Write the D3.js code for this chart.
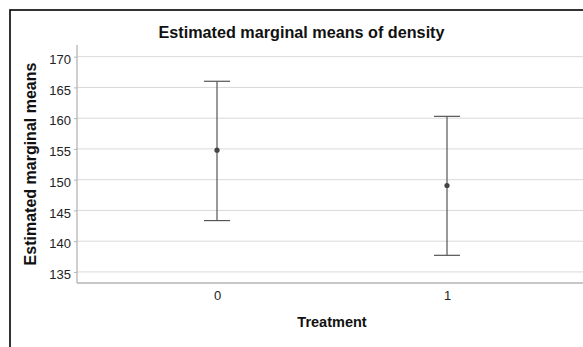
<!DOCTYPE html>
<html>
<head>
<meta charset="utf-8">
<script src="https://cdn.jsdelivr.net/npm/d3@7"></script>
<style>
  html, body { margin: 0; padding: 0; background: #fff; }
  svg { display: block; font-family: "Liberation Sans", Arial, sans-serif; }
</style>
</head>
<body>
<svg id="chart" width="583" height="347"></svg>
<script>
// Estimated marginal means of density by treatment, with 95% CI bounds
const categories = ["0", "1"];
const means = [154.8, 149.05];
const lowerCI = [143.35, 137.7];
const upperCI = [166.0, 160.3];
const yTicks = [135, 140, 145, 150, 155, 160, 165, 170];

const svg = d3.select("#chart");
const plot = { left: 77, right: 587, top: 45, bottom: 283 };

// frame around the whole chart
svg.append("rect")
  .attr("x", 10).attr("y", 10)
  .attr("width", 600).attr("height", 360)
  .attr("fill", "none").attr("stroke", "#000").attr("stroke-width", 1.6);

const y = d3.scaleLinear().domain([133.2, 171.9]).range([plot.bottom, plot.top]);
const x = d3.scalePoint().domain(categories)
  .range([plot.left, plot.right]).padding(140 / 230);

// gridlines
svg.append("g").selectAll("line").data(yTicks).join("line")
  .attr("x1", plot.left).attr("x2", plot.right)
  .attr("y1", d => y(d)).attr("y2", d => y(d))
  .attr("stroke", "#d9d9d9").attr("stroke-width", 1);

// y axis
const yAxis = svg.append("g")
  .attr("transform", `translate(${plot.left},0)`)
  .call(d3.axisLeft(y).tickValues(yTicks).tickSize(3).tickPadding(3));
yAxis.select(".domain").remove();
yAxis.selectAll(".tick line").attr("stroke", "#b5b5b5");
yAxis.selectAll(".tick text")
  .attr("font-size", 13).attr("fill", "#222").attr("dy", "0.52em")
  .attr("font-family", "Liberation Sans, Arial, sans-serif");
svg.append("line")
  .attr("x1", plot.left).attr("x2", plot.left)
  .attr("y1", plot.top).attr("y2", plot.bottom)
  .attr("stroke", "#b5b5b5").attr("stroke-width", 1.3);

// x axis
const xAxis = svg.append("g")
  .attr("transform", `translate(0,${plot.bottom})`)
  .call(d3.axisBottom(x).tickSize(0).tickPadding(8));
xAxis.select(".domain").remove();
xAxis.selectAll(".tick text")
  .attr("font-size", 13).attr("fill", "#222")
  .attr("font-family", "Liberation Sans, Arial, sans-serif");
svg.append("line")
  .attr("x1", plot.left).attr("x2", plot.right)
  .attr("y1", plot.bottom).attr("y2", plot.bottom)
  .attr("stroke", "#b5b5b5").attr("stroke-width", 1.5);

// error bars
const capHalf = 13;
const bars = svg.append("g").selectAll("g").data(categories).join("g");
bars.append("line")
  .attr("x1", d => x(d)).attr("x2", d => x(d))
  .attr("y1", (d, i) => y(upperCI[i])).attr("y2", (d, i) => y(lowerCI[i]))
  .attr("stroke", "#555").attr("stroke-width", 1.2);
bars.append("line")
  .attr("x1", d => x(d) - capHalf).attr("x2", d => x(d) + capHalf)
  .attr("y1", (d, i) => y(upperCI[i])).attr("y2", (d, i) => y(upperCI[i]))
  .attr("stroke", "#555").attr("stroke-width", 1.2);
bars.append("line")
  .attr("x1", d => x(d) - capHalf).attr("x2", d => x(d) + capHalf)
  .attr("y1", (d, i) => y(lowerCI[i])).attr("y2", (d, i) => y(lowerCI[i]))
  .attr("stroke", "#555").attr("stroke-width", 1.2);
bars.append("circle")
  .attr("cx", d => x(d)).attr("cy", (d, i) => y(means[i]))
  .attr("r", 2.6).attr("fill", "#444");

// titles
svg.append("text")
  .attr("x", 301.5).attr("y", 37.5)
  .attr("text-anchor", "middle")
  .attr("font-size", 16.2).attr("font-weight", "bold").attr("fill", "#111")
  .text("Estimated marginal means of density");

svg.append("text")
  .attr("x", (plot.left + plot.right) / 2).attr("y", 326.5)
  .attr("text-anchor", "middle")
  .attr("font-size", 14.5).attr("font-weight", "bold").attr("fill", "#111")
  .text("Treatment");

svg.append("text")
  .attr("transform", "translate(36,164) rotate(-90)")
  .attr("text-anchor", "middle")
  .attr("font-size", 16).attr("font-weight", "bold").attr("fill", "#111")
  .text("Estimated marginal means");
</script>
</body>
</html>
